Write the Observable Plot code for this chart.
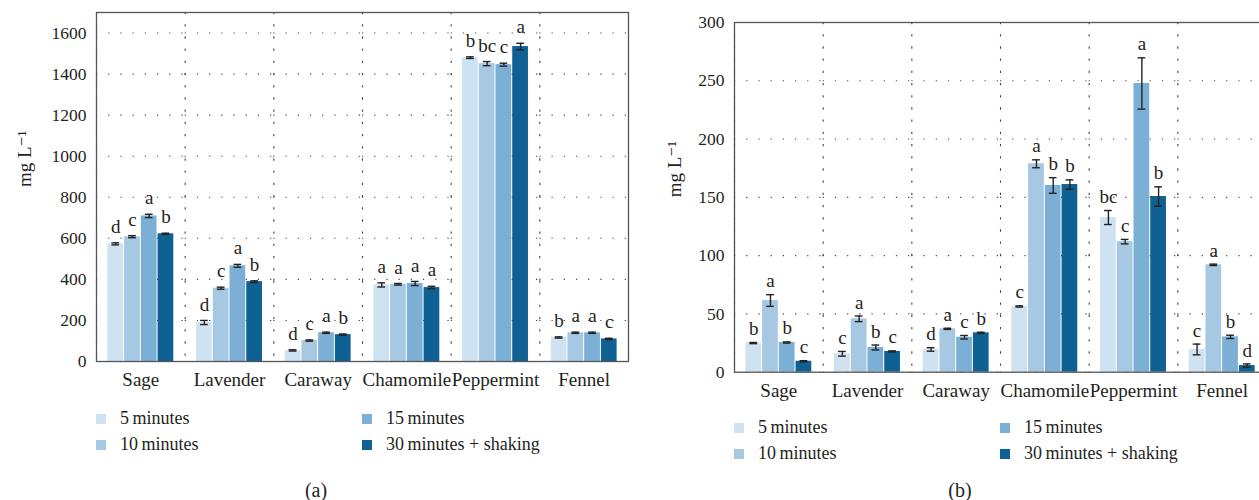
<!DOCTYPE html>
<html>
<head>
<meta charset="utf-8">
<script src="https://cdn.jsdelivr.net/npm/d3@7"></script>
<script src="https://cdn.jsdelivr.net/npm/@observablehq/plot@0.6"></script>
<style>
  html, body { margin: 0; padding: 0; background: #fff; overflow: hidden; }
  #wrap { position: relative; width: 1300px; height: 500px; font-family: "Liberation Serif", "DejaVu Serif", serif; color: #231f20; }
  .panel { position: absolute; top: 0; }
  .sw { position: absolute; width: 10px; height: 10px; }
  .lt { position: absolute; font-size: 18px; line-height: 18px; white-space: nowrap; font-family: "Liberation Serif", "DejaVu Serif", serif; }
  .cap { position: absolute; width: 100px; text-align: center; font-size: 20px; line-height: 20px; font-family: "Liberation Serif", "DejaVu Serif", serif; }
</style>
</head>
<body>
<div id="wrap"></div>
<script>
// ---------- data ----------
const categories = ["Sage", "Lavender", "Caraway", "Chamomile", "Peppermint", "Fennel"];
const series = ["5\u2009minutes", "10\u2009minutes", "15\u2009minutes", "30\u2009minutes + shaking"];
const colors = ["#cfe2f1", "#a6c8e2", "#7bafd6", "#0f6194"];
const yLabel = "mg L\u207B\u00B9";

// panel (a)
const ticksA = [0, 200, 400, 600, 800, 1000, 1200, 1400, 1600];
const meanA_5  = [573, 190, 54, 373, 1480, 117];
const meanA_10 = [608, 357, 102, 376, 1451, 140];
const meanA_15 = [709, 466, 140, 380, 1446, 140];
const meanA_30 = [622, 389, 131, 360, 1534, 110];
const errA_5  = [5, 10, 3, 10, 4, 3];
const errA_10 = [5, 5, 3, 4, 10, 3];
const errA_15 = [8, 7, 3, 10, 7, 3];
const errA_30 = [3, 4, 3, 6, 16, 3];
const letA_5  = ["d", "d", "d", "a", "b", "b"];
const letA_10 = ["c", "c", "c", "a", "bc", "a"];
const letA_15 = ["a", "a", "a", "a", "c", "a"];
const letA_30 = ["b", "b", "b", "a", "a", "c"];

// panel (b)
const ticksB = [0, 50, 100, 150, 200, 250, 300];
const meanB_5  = [25, 15.8, 19.5, 56.4, 132.7, 19.5];
const meanB_10 = [61.5, 45.8, 37.2, 178.8, 112, 92.1];
const meanB_15 = [25.5, 21.2, 30, 160.2, 247.7, 30.3];
const meanB_30 = [9.4, 17.8, 33.8, 161, 150.7, 5.7];
const errB_5  = [0.5, 2, 1.5, 0.5, 6, 4.6];
const errB_10 = [5, 2.4, 0.5, 3.4, 1.9, 0.6];
const errB_15 = [0.5, 2.1, 1.5, 6.7, 22, 1.4];
const errB_30 = [0.5, 0.5, 0.5, 4, 8.3, 1.4];
const letB_5  = ["b", "c", "d", "c", "bc", "c"];
const letB_10 = ["a", "a", "a", "a", "c", "a"];
const letB_15 = ["b", "b", "c", "b", "a", "b"];
const letB_30 = ["c", "c", "b", "b", "b", "d"];

// ---------- build ----------
const INK = "#231f20";
const FONT = "Liberation Serif, DejaVu Serif, serif";

function rowsFor(means, errs, lets) {
  return series.flatMap((s, j) => categories.map((c, i) => ({
    category: c, series: s, mean: means[j][i], err: errs[j][i], letter: lets[j][i]
  })));
}

function panel(o) {
  const rows = o.rows;
  return Plot.plot({
    width: o.width, height: 400,
    marginLeft: o.marginLeft, marginRight: o.marginRight,
    marginTop: o.marginTop, marginBottom: o.marginBottom,
    style: {fontFamily: FONT, color: INK, background: "transparent", overflow: "visible"},
    fx: {domain: categories, padding: 0, round: false},
    x: {domain: series, paddingInner: 0.06, paddingOuter: 0.68, round: false, axis: null},
    y: {domain: o.yDomain},
    color: {domain: series, range: colors},
    marks: [
      Plot.ruleY(o.ticks, {stroke: "#444", strokeWidth: 1.1, strokeDasharray: "1.2,11"}),
      Plot.frame({anchor: "left", stroke: "#444", strokeWidth: 1.1, strokeDasharray: "1.2,11"}),
      Plot.barY(rows, {fx: "category", x: "series", y: "mean", fill: "series"}),
      Plot.ruleX(rows, {fx: "category", x: "series", y1: d => d.mean - d.err, y2: d => d.mean + d.err, stroke: "#222", strokeWidth: 1.4}),
      Plot.tickY(rows, {fx: "category", x: "series", y: d => d.mean + d.err, insetLeft: 4, insetRight: 4, stroke: "#222", strokeWidth: 1.4}),
      Plot.tickY(rows, {fx: "category", x: "series", y: d => d.mean - d.err, insetLeft: 4, insetRight: 4, stroke: "#222", strokeWidth: 1.4}),
      Plot.text(rows, {fx: "category", x: "series", y: d => d.mean + d.err, text: "letter", dy: o.letterDy, fontSize: 19, fontFamily: FONT, fill: INK}),
      Plot.axisY({ticks: o.ticks, tickFormat: d => String(d), tickSize: 0, tickPadding: 10, fontSize: 17.5, fontFamily: FONT, fill: INK, label: null}),
      Plot.axisFx({anchor: "bottom", tickSize: 0, tickPadding: 11, fontSize: 19, fontFamily: FONT, fill: INK, label: null}),
      Plot.text([yLabel], {facet: "super", frameAnchor: "left", rotate: -90, dx: o.labelDx, fontSize: 19, fontFamily: FONT, fill: INK}),
      Plot.frame({facet: "super", stroke: "#555", strokeWidth: 1.3})
    ]
  });
}

const wrap = document.getElementById("wrap");

const pa = panel({
  rows: rowsFor([meanA_5, meanA_10, meanA_15, meanA_30], [errA_5, errA_10, errA_15, errA_30], [letA_5, letA_10, letA_15, letA_30]),
  ticks: ticksA, yDomain: [0, 1700], width: 640,
  marginLeft: 96, marginRight: 12, marginTop: 12, marginBottom: 39,
  letterDy: -16, labelDx: -72
});
const pb = panel({
  rows: rowsFor([meanB_5, meanB_10, meanB_15, meanB_30], [errB_5, errB_10, errB_15, errB_30], [letB_5, letB_10, letB_15, letB_30]),
  ticks: ticksB, yDomain: [0, 300], width: 640,
  marginLeft: 94, marginRight: 14, marginTop: 22, marginBottom: 28.3,
  letterDy: -13.5, labelDx: -60
});

const da = document.createElement("div"); da.className = "panel"; da.style.left = "0px"; da.appendChild(pa);
const db = document.createElement("div"); db.className = "panel"; db.style.left = "640px"; db.appendChild(pb);
wrap.appendChild(da); wrap.appendChild(db);

// legends
function legend(cols, rowsY, swDx) {
  series.forEach((s, i) => {
    const col = Math.floor(i / 2), row = i % 2;
    const sw = document.createElement("div");
    sw.className = "sw";
    sw.style.background = colors[i];
    sw.style.left = cols[col] + "px";
    sw.style.top = (rowsY[row] - 10) + "px";
    wrap.appendChild(sw);
    const t = document.createElement("div");
    t.className = "lt";
    t.textContent = s;
    t.style.left = (cols[col] + swDx) + "px";
    t.style.top = (rowsY[row] - 0.8375 * 18) + "px";
    wrap.appendChild(t);
  });
}
legend([95.5, 361.5], [423.8, 449.8], 24.5);
legend([734, 1000], [433, 459], 24);

function caption(txt, cx, baseline) {
  const c = document.createElement("div");
  c.className = "cap";
  c.textContent = txt;
  c.style.left = (cx - 50) + "px";
  c.style.top = (baseline - 0.8375 * 20) + "px";
  wrap.appendChild(c);
}
caption("(a)", 316, 497);
caption("(b)", 960, 497);
</script>
</body>
</html>
